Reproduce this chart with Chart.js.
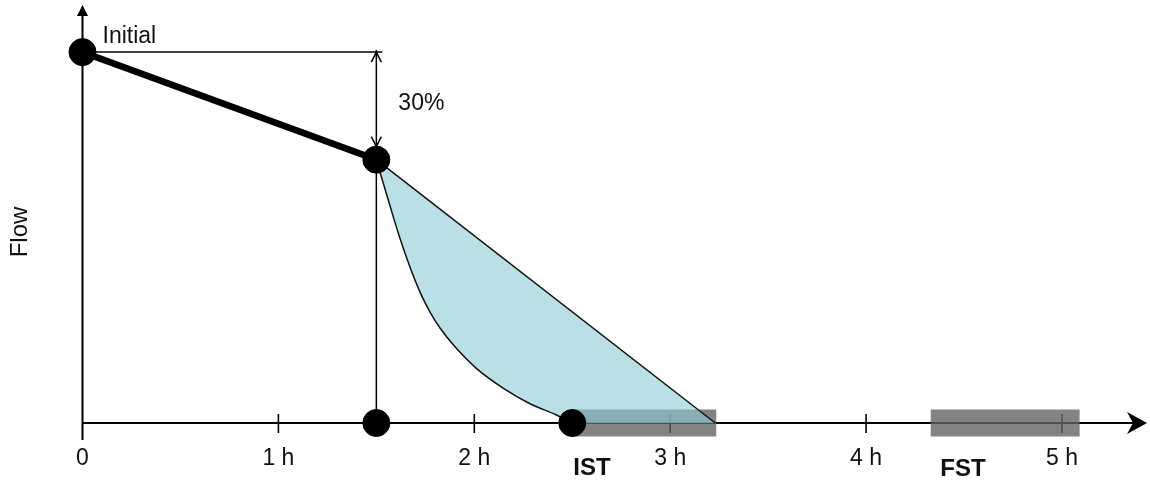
<!DOCTYPE html>
<html><head><meta charset="utf-8">
<script src="https://cdn.jsdelivr.net/npm/chart.js@4.4.1/dist/chart.umd.min.js"></script>
<style>html,body{margin:0;padding:0;background:#fff}#wrap{width:1150px;height:481px}</style>
</head><body><div id="wrap"><canvas id="c" width="1150" height="481"></canvas></div>
<script>
// ---- data ----
const xTicks = [0, 1, 2, 3, 4, 5];
const xTickLabels = ['0', '1 h', '2 h', '3 h', '4 h', '5 h'];
const mainLine = [{x:0, y:1.0}, {x:1.5, y:0.71}];
const markers = [{x:0, y:1.0}, {x:1.5, y:0.71}, {x:1.5, y:0}, {x:2.5, y:0}];
const curve = [
  {x:1.5, y:0.71}, {x:1.57, y:0.585}, {x:1.62, y:0.499}, {x:1.672, y:0.420},
  {x:1.723, y:0.353}, {x:1.774, y:0.299}, {x:1.825, y:0.256}, {x:1.907, y:0.202},
  {x:2.009, y:0.148}, {x:2.147, y:0.094}, {x:2.284, y:0.052}, {x:2.422, y:0.021},
  {x:2.5, y:0}
];
const straight = [{x:1.5, y:0.71}, {x:3.23, y:0}];
const shadeShape = curve.concat([{x:3.23, y:0}, {x:1.5, y:0.71}]);
const istBar = [{x:2.5, y:0}, {x:3.235, y:0}];
const fstBar = [{x:4.33, y:0}, {x:5.09, y:0}];
const xMax = 5.434, yMax = 1.127;
const FONT = "'Liberation Sans', Arial, sans-serif";

const deco = {
  id: 'deco',
  beforeDatasetsDraw(chart) {
    const ctx = chart.ctx, xs = chart.scales.x, ys = chart.scales.y;
    const X = v => xs.getPixelForValue(v), Y = v => ys.getPixelForValue(v);
    const x0 = X(0), y0 = Y(0);
    ctx.save();
    ctx.strokeStyle = '#000'; ctx.fillStyle = '#000';
    // x axis
    ctx.lineWidth = 2;
    ctx.beginPath(); ctx.moveTo(x0, y0); ctx.lineTo(xs.right - 10, y0); ctx.stroke();
    const r = xs.right;
    ctx.beginPath(); ctx.moveTo(r, y0); ctx.lineTo(r - 20, y0 - 11); ctx.lineTo(r - 14, y0);
    ctx.lineTo(r - 20, y0 + 11); ctx.closePath(); ctx.fill();
    // y axis
    ctx.beginPath(); ctx.moveTo(x0, y0 + 17); ctx.lineTo(x0, ys.top + 8); ctx.stroke();
    ctx.beginPath(); ctx.moveTo(x0, ys.top); ctx.lineTo(x0 - 5.5, ys.top + 11); ctx.lineTo(x0 + 5.5, ys.top + 11);
    ctx.closePath(); ctx.fill();
    // tick marks
    ctx.lineWidth = 1.6;
    xTicks.forEach(v => { if (v === 0) return; const px = X(v);
      ctx.beginPath(); ctx.moveTo(px, y0 - 9); ctx.lineTo(px, y0 + 10); ctx.stroke(); });
    // annotation lines
    ctx.lineWidth = 1.5;
    const xa = X(1.5), yi = Y(mainLine[0].y), yp = Y(mainLine[1].y);
    ctx.beginPath(); ctx.moveTo(x0, yi); ctx.lineTo(xa + 6, yi); ctx.stroke();
    ctx.beginPath(); ctx.moveTo(xa, yi - 2); ctx.lineTo(xa, y0); ctx.stroke();
    // open arrowheads
    ctx.beginPath(); ctx.moveTo(xa - 5, yi + 10); ctx.lineTo(xa, yi); ctx.lineTo(xa + 5, yi + 10); ctx.stroke();
    const tb = yp - 13;
    ctx.beginPath(); ctx.moveTo(xa - 5, tb - 10); ctx.lineTo(xa, tb); ctx.lineTo(xa + 5, tb - 10); ctx.stroke();
    // texts
    ctx.fillStyle = '#111';
    ctx.textBaseline = 'alphabetic';
    ctx.font = '23px ' + FONT; ctx.textAlign = 'left';
    ctx.fillText('Initial', x0 + 20, yi - 9);
    ctx.fillText('30%', xa + 22, yi + 58);
    ctx.font = 'bold 24px ' + FONT; ctx.textAlign = 'center';
    ctx.fillText('IST', 592, 475);
    ctx.fillText('FST', 963, 476);
    ctx.save();
    ctx.translate(27, 232); ctx.rotate(-Math.PI / 2);
    ctx.font = '24px ' + FONT; ctx.textAlign = 'center';
    ctx.fillText('Flow', 0, 0);
    ctx.restore();
    ctx.restore();
  }
};

new Chart(document.getElementById('c'), {
  type: 'scatter',
  data: { datasets: [
    { data: markers, showLine: false, pointRadius: 13.5, pointHoverRadius: 13.5, pointBackgroundColor: '#000', pointBorderColor: '#000', pointBorderWidth: 1, clip: false, order: 0 },
    { data: mainLine, showLine: true, borderColor: '#000', borderWidth: 6.5, pointRadius: 0, clip: false, order: 1 },
    { data: curve, showLine: true, borderColor: '#111', borderWidth: 1.5, pointRadius: 0, cubicInterpolationMode: 'monotone', tension: 0.4, clip: false, order: 2 },
    { data: straight, showLine: true, borderColor: '#111', borderWidth: 1.5, pointRadius: 0, clip: false, order: 3 },
    { data: shadeShape, showLine: true, borderWidth: 0, borderColor: 'rgba(0,0,0,0)', backgroundColor: 'rgba(138,203,210,0.6)', fill: 'shape', pointRadius: 0, clip: false, order: 5 },
    { data: istBar, showLine: true, borderColor: 'rgba(100,100,100,0.8)', borderWidth: 27, borderCapStyle: 'butt', pointRadius: 0, clip: false, order: 6 },
    { data: fstBar, showLine: true, borderColor: 'rgba(100,100,100,0.8)', borderWidth: 27, borderCapStyle: 'butt', pointRadius: 0, clip: false, order: 6 }
  ]},
  options: {
    responsive: false, animation: false, devicePixelRatio: 1,
    layout: { autoPadding: false, padding: { left: 82.5, right: 3, top: 5, bottom: 0 } },
    plugins: { legend: { display: false }, tooltip: { enabled: false }, filler: { drawTime: 'beforeDatasetDraw' } },
    scales: {
      x: { type: 'linear', min: 0, max: xMax,
        afterBuildTicks: s => { s.ticks = xTicks.map(v => ({ value: v })); },
        afterFit: s => { s.height = 58; },
        grid: { display: false, drawTicks: false }, border: { display: false },
        ticks: { autoSkip: false, maxRotation: 0, color: '#111', padding: 22,
          font: { family: FONT, size: 23 },
          callback: (v, i) => xTickLabels[i] } },
      y: { type: 'linear', min: 0, max: yMax, display: false }
    }
  },
  plugins: [deco]
});
</script>
</body></html>
